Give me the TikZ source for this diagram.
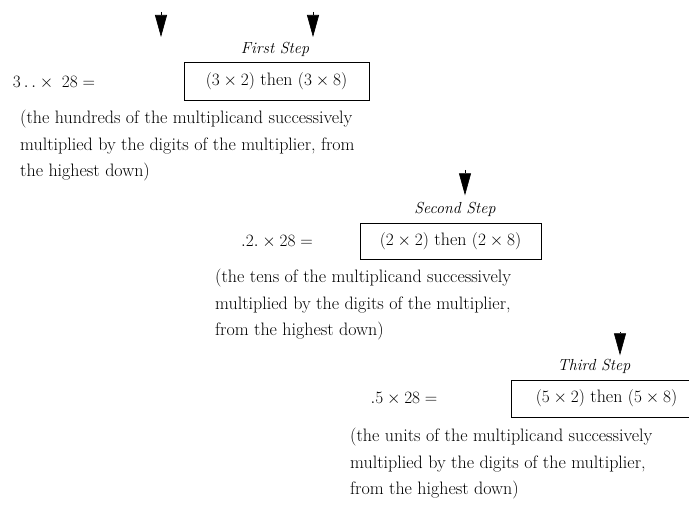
\documentclass[tikz,border=0pt]{standalone}
\usepackage{amsmath,amssymb}
\usepackage{tikz}
\usetikzlibrary{arrows.meta}

\newcommand{\bodysize}{\fontsize{18}{26.5}\selectfont}
\tikzset{
  stepbox/.style={draw, line width=0.9pt, inner sep=0pt},
  steplabel/.style={font=\fontsize{16}{20}\selectfont\itshape},
  note/.style={align=left, anchor=north west, inner sep=0pt, font=\bodysize},
  pointer/.style={-{Triangle[width=12pt,length=22pt]}, line width=0.6pt}
}

\begin{document}
\begin{tikzpicture}[x=1pt,y=-1pt,font=\bodysize]
\useasboundingbox (0,0) rectangle (689,505);

% first step
\coordinate (top1) at (161,12);
\coordinate (tip1) at (161,37);
\draw[pointer] (top1) -- (tip1);
\node[steplabel] (lab1) at (275,49) {First Step};
\coordinate (top2) at (313,12);
\coordinate (tip2) at (313,37);
\draw[pointer] (top2) -- (tip2);
\node (eq1) at (54,83) {$3\,.\,.\times\;28 =$};
\node[stepbox, minimum width=185pt, minimum height=38pt] (box1) at (276.5,81) {$(3\times2)$ then $(3\times8)$};
\node[note] (txt1) at (20,110) {(the hundreds of the multiplicand successively\\
multiplied by the digits of the multiplier, from\\
the highest down)};

% second step
\node[steplabel] (lab2) at (455,209) {Second Step};
\coordinate (top3) at (465,170);
\draw[pointer,shorten >=3pt] (top3) -- (lab2.north-|top3);
\node (eq2) at (277,242) {$.2.\times28 =$};
\node[stepbox, minimum width=181pt, minimum height=36pt] (box2) at (450.5,241) {$(2\times2)$ then $(2\times8)$};
\node[note] (txt2) at (215,269) {(the tens of the multiplicand successively\\
multiplied by the digits of the multiplier,\\
from the highest down)};

% third step (box runs past the right edge)
\node[steplabel] (lab3) at (594,366) {Third Step};
\coordinate (top4) at (620,332);
\draw[pointer] (top4) -- (lab3.north-|top4);
\node (eq3) at (404,399) {$.5\times28 =$};
\node[stepbox, minimum width=190pt, minimum height=37pt, anchor=west] (box3) at (511,398.5) {$(5\times2)$ then $(5\times8)$};
\node[note] (txt3) at (350,428) {(the units of the multiplicand successively\\
multiplied by the digits of the multiplier,\\
from the highest down)};
\end{tikzpicture}
\end{document}
